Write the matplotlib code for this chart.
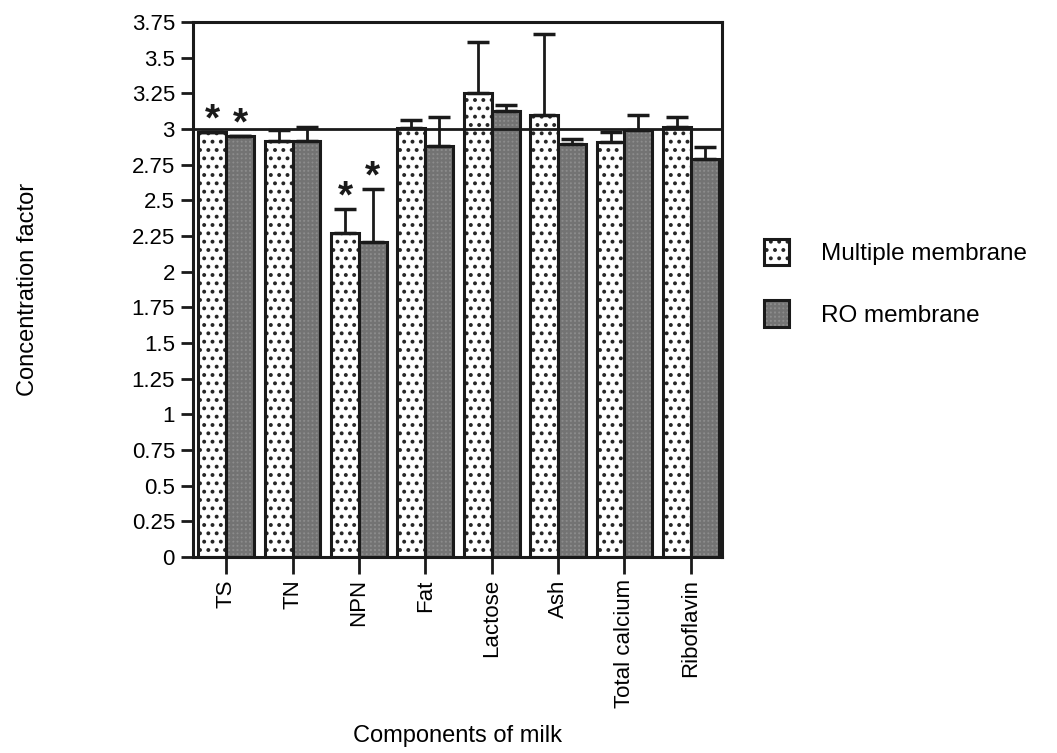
import numpy as np
import matplotlib.pyplot as plt

plt.rcParams['font.family'] = ['Liberation Sans', 'DejaVu Sans']
plt.rcParams['hatch.linewidth'] = 1.6

components = ["TS", "TN", "NPN", "Fat", "Lactose", "Ash", "Total calcium", "Riboflavin"]
multiple = [2.98, 2.915, 2.27, 3.005, 3.25, 3.10, 2.91, 3.01]
multiple_err = [0.0, 0.075, 0.17, 0.055, 0.36, 0.565, 0.07, 0.07]
ro = [2.95, 2.915, 2.21, 2.88, 3.125, 2.895, 2.99, 2.79]
ro_err = [0.0, 0.095, 0.37, 0.20, 0.045, 0.035, 0.11, 0.085]
# significance marks: (group index, series)
stars = [(0, 0), (0, 1), (2, 0), (2, 1)]

fig = plt.figure(figsize=(10.57, 7.53), dpi=100)
ax = fig.add_axes([0.1826, 0.2603, 0.5005, 0.7107])

x = np.arange(len(components))
w = 0.42

b1 = ax.bar(x - w / 2, multiple, w, facecolor="white", edgecolor="#1a1a1a",
            linewidth=2.2, hatch="..", label="Multiple membrane")
b2 = ax.bar(x + w / 2, ro, w, facecolor="#8c8c8c", edgecolor="#1a1a1a",
            linewidth=2.2, hatch="++++", label="RO membrane")
for bar in b2:
    bar._hatch_color = (0.45, 0.45, 0.45, 1.0)
for bar in b1:
    bar._hatch_color = (0.15, 0.15, 0.15, 1.0)

ax.errorbar(x - w / 2, multiple, yerr=[np.zeros(len(x)), multiple_err], fmt="none",
            ecolor="#1a1a1a", elinewidth=2, capsize=8, capthick=2.5)
ax.errorbar(x + w / 2, ro, yerr=[np.zeros(len(x)), ro_err], fmt="none",
            ecolor="#1a1a1a", elinewidth=2, capsize=8, capthick=2.5)

for i, s in stars:
    top = (multiple[i] + multiple_err[i]) if s == 0 else (ro[i] + ro_err[i])
    xs = x[i] - w / 2 if s == 0 else x[i] + w / 2
    ax.text(xs, top + 0.08, "*", ha="center", va="center", fontsize=28,
            fontweight="bold", color="#1a1a1a")

ax.axhline(3, color="#1a1a1a", linewidth=2)

ax.set_xlim(-0.5, 7.47)
ax.set_ylim(0, 3.75)
yt = np.arange(0, 3.76, 0.25)
ax.set_yticks(yt)
ax.set_yticklabels([("%g" % v) for v in yt], fontsize=16)
ax.set_xticks(x)
ax.set_xticklabels(components, rotation=90, fontsize=16)
ax.tick_params(axis="y", length=9, width=2, color="#1a1a1a", pad=4)
ax.tick_params(axis="x", length=12, width=2, color="#1a1a1a", pad=4)
for sp in ax.spines.values():
    sp.set_linewidth(2.2)
    sp.set_color("#1a1a1a")

ax.set_xlabel("Components of milk", fontsize=17, labelpad=12)
ax.set_ylabel("Concentration factor", fontsize=17, labelpad=67)

fig.legend(handles=[b1, b2], loc="upper left", bbox_to_anchor=(0.702, 0.712),
           frameon=False, fontsize=17.5, handlelength=1.05, handleheight=1.3,
           labelspacing=1.45, handletextpad=1.3)

fig.savefig("out.png", dpi=100)
